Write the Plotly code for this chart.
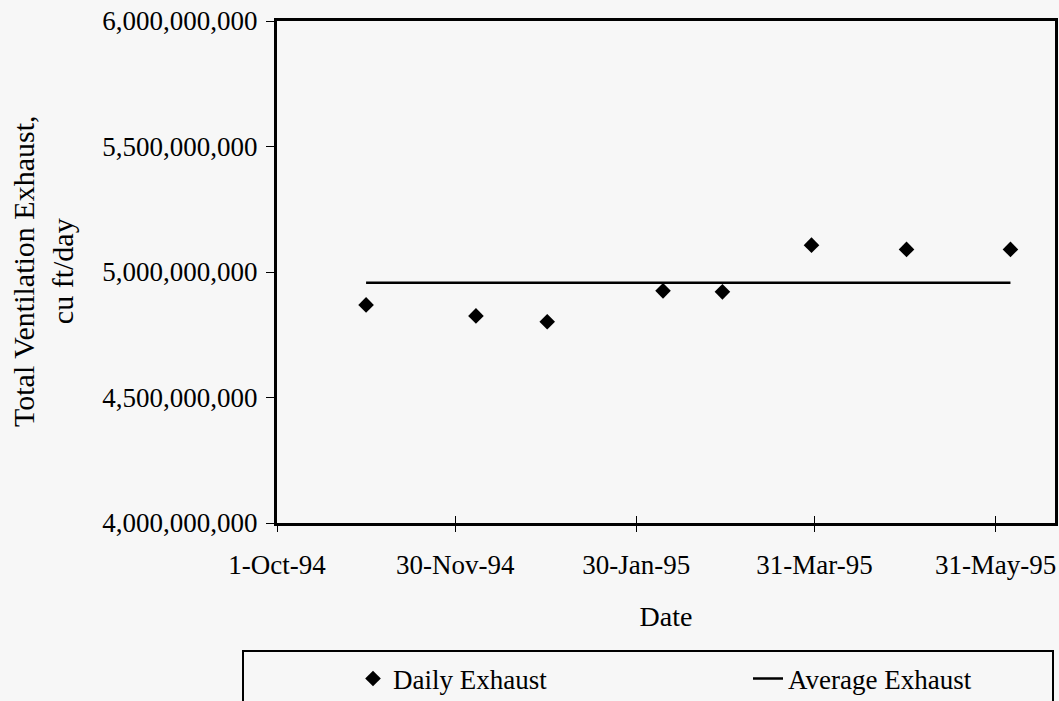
import plotly.graph_objects as go

# Data
sample_dates = ["1994-10-31", "1994-12-07", "1994-12-31", "1995-02-08",
                "1995-02-28", "1995-03-30", "1995-05-01", "1995-06-05"]
daily_exhaust = [4.869e9, 4.825e9, 4.802e9, 4.925e9,
                 4.921e9, 5.107e9, 5.090e9, 5.090e9]
average_exhaust = 4.957e9

x_tick_dates = ["1994-10-01", "1994-11-30", "1995-01-30", "1995-03-31", "1995-05-31"]
x_tick_labels = ["1-Oct-94", "30-Nov-94", "30-Jan-95", "31-Mar-95", "31-May-95"]
y_tick_vals = [4.0e9, 4.5e9, 5.0e9, 5.5e9, 6.0e9]
y_tick_labels = ["4,000,000,000", "4,500,000,000", "5,000,000,000",
                 "5,500,000,000", "6,000,000,000"]

FONT = "Liberation Serif, Times New Roman, serif"
BG = "#f7f7f7"

W, H = 1059, 701
L, R, T, B = 277, 4, 21, 178
pw = W - L - R
ph = H - T - B


def px_x(p):
    return (p - L) / pw


def px_y(p):
    return (H - B - p) / ph


fig = go.Figure()
fig.add_trace(go.Scatter(
    x=sample_dates, y=daily_exhaust, mode="markers", name="Daily Exhaust",
    marker=dict(symbol="diamond", size=12, color="black"), legend="legend",
))
fig.add_trace(go.Scatter(
    x=[sample_dates[0], sample_dates[-1]], y=[average_exhaust, average_exhaust],
    mode="lines", name="Average Exhaust",
    line=dict(color="black", width=2.5), legend="legend2",
))
# invisible helper trace for the inner half of the crossing x ticks
fig.add_trace(go.Scatter(x=[sample_dates[0]], y=[daily_exhaust[0]], xaxis="x2",
                         mode="markers", marker=dict(opacity=0), showlegend=False,
                         hoverinfo="skip"))

xrange = ["1994-10-01", "1995-06-20"]
legend_common = dict(
    orientation="h", xanchor="left", yanchor="middle",
    xref="paper", yref="paper", bgcolor="rgba(0,0,0,0)", borderwidth=0,
    font=dict(family=FONT, size=27),
)

fig.update_layout(
    width=W, height=H,
    margin=dict(l=L, r=R, t=T, b=B, autoexpand=False),
    paper_bgcolor=BG, plot_bgcolor=BG,
    font=dict(family=FONT, size=26, color="black"),
    showlegend=True,
    xaxis=dict(
        range=xrange, tickvals=x_tick_dates, ticktext=x_tick_labels,
        ticks="outside", ticklen=6, tickwidth=1, tickcolor="black",
        showline=True, linewidth=3, linecolor="black", mirror=True,
        showgrid=False, zeroline=False, automargin=False,
        tickfont=dict(family=FONT, size=27), ticklabelstandoff=10,
        title=dict(text="Date", font=dict(family=FONT, size=28), standoff=27),
    ),
    xaxis2=dict(
        range=xrange, overlaying="x", side="bottom", tickvals=x_tick_dates,
        showticklabels=False, ticks="inside", ticklen=7, tickwidth=1,
        tickcolor="black", showgrid=False, zeroline=False, showline=False,
        automargin=False,
    ),
    yaxis=dict(
        range=[4.0e9, 6.0e9], tickvals=y_tick_vals, ticktext=y_tick_labels,
        ticks="outside", ticklen=8, tickwidth=1, tickcolor="black",
        showline=True, linewidth=3, linecolor="black", mirror=True,
        showgrid=False, zeroline=False, automargin=False,
        tickfont=dict(family=FONT, size=27), ticklabelstandoff=3,
    ),
    legend=dict(x=px_x(353), y=px_y(679), **legend_common),
    legend2=dict(x=px_x(748), y=px_y(679), **legend_common),
    shapes=[dict(
        type="rect", xref="paper", yref="paper",
        x0=px_x(243), x1=px_x(1053), y0=px_y(651), y1=px_y(712),
        line=dict(color="black", width=2), fillcolor="rgba(0,0,0,0)",
    )],
    annotations=[dict(
        text="Total Ventilation Exhaust,<br>cu ft/day",
        xref="paper", yref="paper", x=px_x(43), y=px_y(272),
        xanchor="center", yanchor="middle", textangle=-90, showarrow=False,
        font=dict(family=FONT, size=30),
    )],
)

fig.write_html("out.html", config={"displayModeBar": False},
               post_script="document.body.style.margin='0';document.body.style.overflow='hidden';")
